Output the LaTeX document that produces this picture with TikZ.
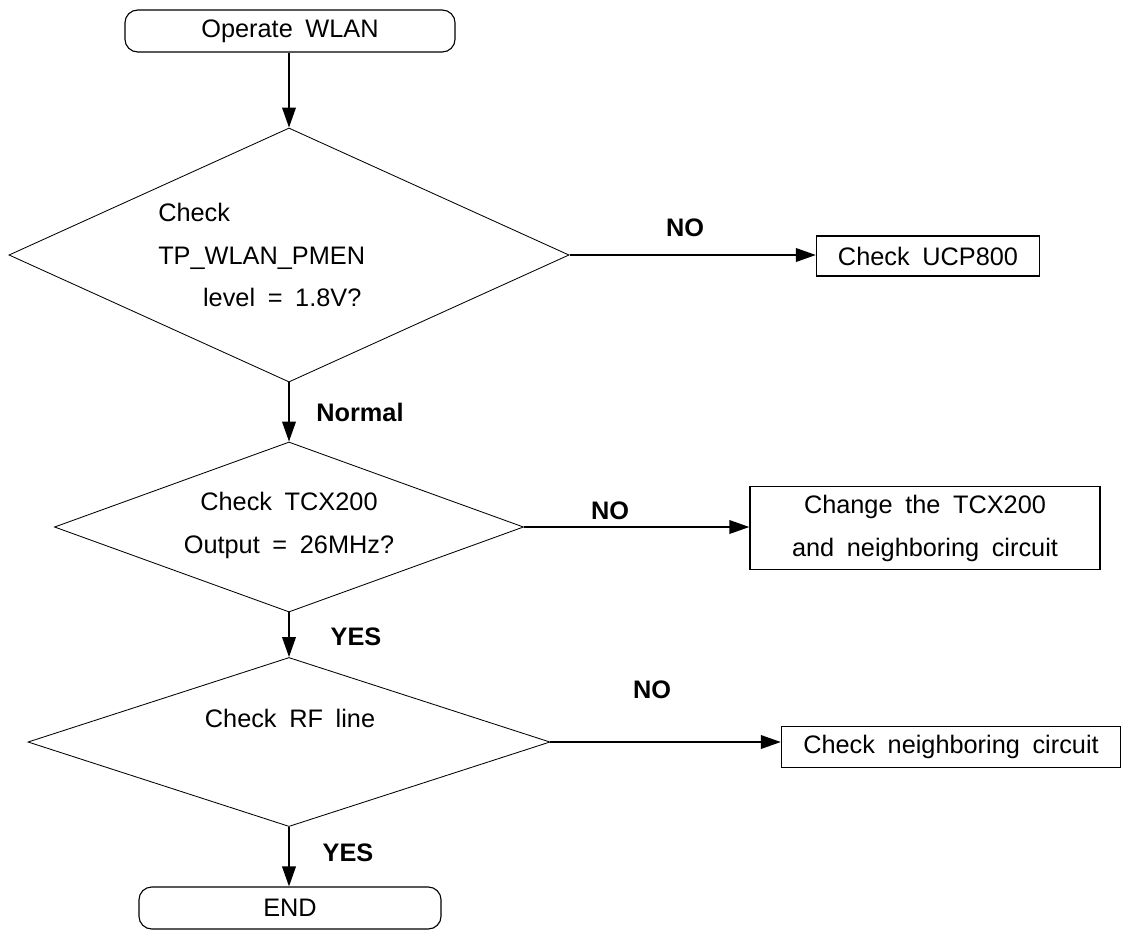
\documentclass[tikz,border=0pt]{standalone}
\usepackage{fontspec}
\setmainfont{Liberation Sans}
\usepackage{tikz}
\usetikzlibrary{arrows.meta, calc, positioning, shapes.geometric}

\newcommand{\flowfont}{\fontsize{18}{30.5}\selectfont\spaceskip=0.5em plus 0.1em\relax}

\tikzset{
  txt/.style={font=\flowfont, inner sep=0pt},
  lbl/.style={font=\fontsize{18}{21}\selectfont\bfseries, inner sep=0pt},
  term/.style={txt, draw, line width=0.8pt, rounded corners=0.32cm, minimum height=1.05cm},
  proc/.style={txt, draw, line width=0.9pt, align=center},
  dec/.style={diamond, draw, line width=0.6pt, inner sep=0pt},
  arr/.style={-{Triangle[length=0.5cm, width=0.34cm]}, line width=1.3pt},
}

\begin{document}
\begin{tikzpicture}[x=0.025cm, y=-0.025cm]
\useasboundingbox (0,0) rectangle (1122,929);

% Terminals
\node[term, minimum width=8.25cm] (start) at (290,31) {Operate WLAN};
\node[term, minimum width=7.55cm] (stop) at (290,908) {END};

% Decisions
\node[dec, minimum width=14cm, minimum height=6.35cm] (d1) at (289,255) {};
\node[txt, align=left, anchor=west] (t1) at (158,255)
  {Check\\TP\_WLAN\_PMEN\\\hspace*{1.12cm}level = 1.8V?};
\node[dec, minimum width=11.725cm, minimum height=4.25cm] (d2) at (289,527) {};
\node[txt, align=center] (t2) at (289,525) {Check TCX200\\Output = 26MHz?};
\node[dec, minimum width=13.05cm, minimum height=4.225cm] (d3) at (289,742) {};
\node[txt] (t3) at (290,718) {Check RF line};

% Actions
\node[proc, minimum width=5.575cm, minimum height=1cm] (b1) at (928,256) {Check UCP800};
\node[proc, minimum width=8.75cm, minimum height=2.075cm] (b2) at (925,528)
  {Change the TCX200\\and neighboring circuit};
\node[proc, minimum width=8.475cm, minimum height=1.025cm] (b3) at (951,747) {Check neighboring circuit};

% Flow
\draw[arr] (start.south -| d1.north) -- (d1.north);
\draw[arr] (d1.south) -- (d2.north);
\draw[arr] (d2.south) -- (d3.north);
\draw[arr] (d3.south) -- (d3.south |- stop.north);
\draw[arr] (d1.east) -- (d1.east -| b1.west);
\draw[arr] (d2.east) -- (d2.east -| b2.west);
\draw[arr] (d3.east) -- (d3.east -| b3.west);

% Branch labels
\node[lbl] (no1) at (685,228) {NO};
\node[lbl] (ok1) at (360,412) {Normal};
\node[lbl] (no2) at (610,511) {NO};
\node[lbl] (yes1) at (356,637) {YES};
\node[lbl] (no3) at (652,690) {NO};
\node[lbl] (yes2) at (348,853) {YES};

\end{tikzpicture}
\end{document}
